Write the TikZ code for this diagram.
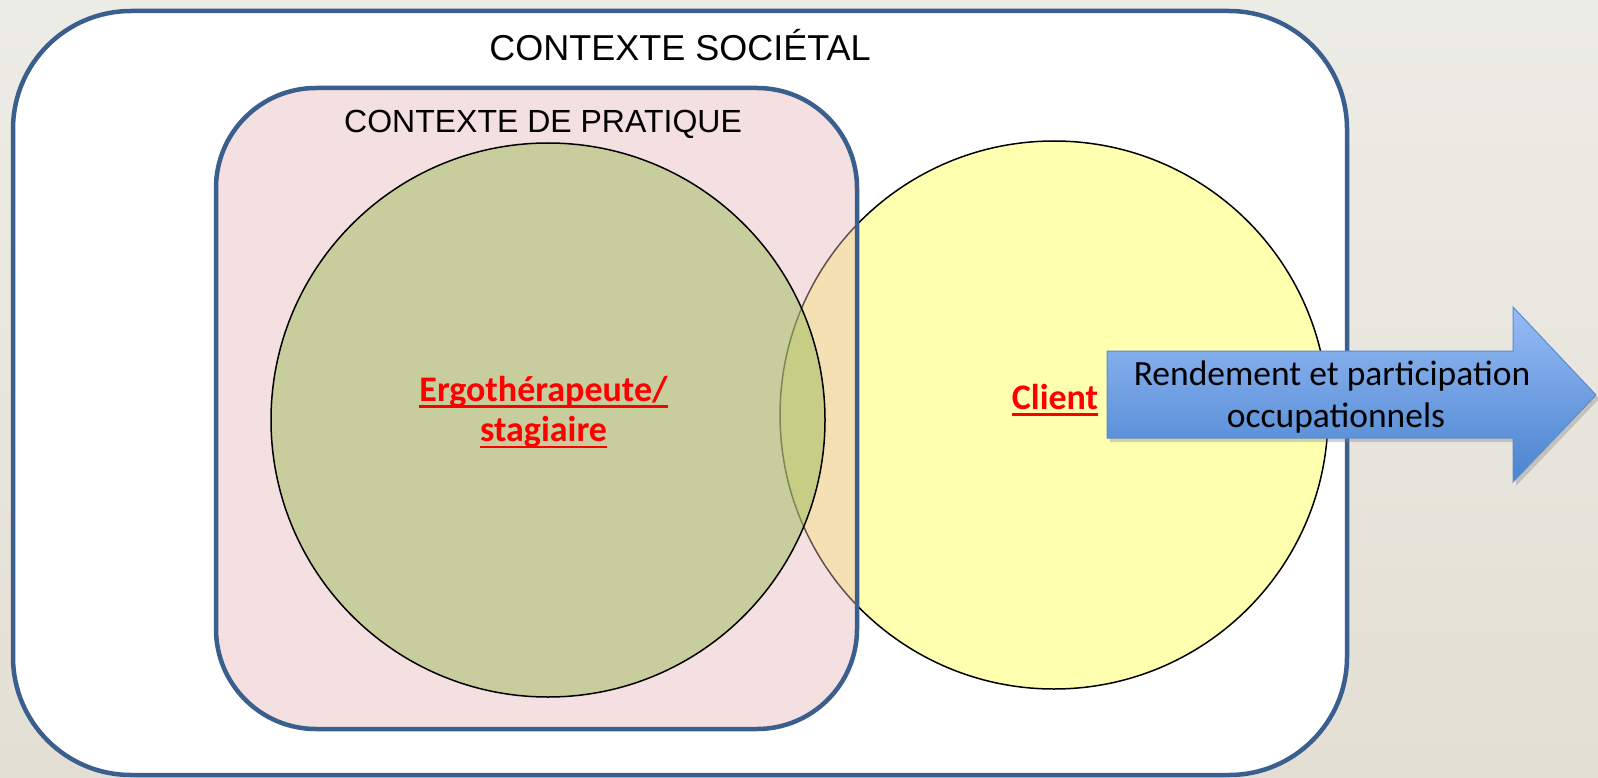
\documentclass[tikz,border=0pt]{standalone}
\usepackage{fontspec}
\setmainfont{Liberation Sans}
\newfontfamily\calfont{Carlito}
\usetikzlibrary{shadows}
\definecolor{bgtop}{HTML}{ECECE6}
\definecolor{bgbot}{HTML}{E4DFD4}
\definecolor{frameblue}{HTML}{3A5F8F}
\definecolor{pinkfill}{HTML}{E6B9B8}
\definecolor{olivefill}{HTML}{9BBB59}
\definecolor{yellowfill}{HTML}{FFFFB0}
\definecolor{arrowtop}{HTML}{96BBF4}
\definecolor{arrowbot}{HTML}{4A84D0}
\definecolor{arrowline}{HTML}{5A8CD0}
\definecolor{redtext}{HTML}{FF0000}
\newcommand\redul[1]{\setbox0\hbox{#1}\rlap{\color{redtext}\rule[-6.8pt]{\wd0}{2.8pt}}\box0}
\tikzset{
  frame/.style={draw=frameblue, line width=4.5pt},
  venn/.style={draw=black, line width=1.5pt},
  ctxlabel/.style={inner sep=0pt, anchor=base, font=\fontsize{#1}{#1}\selectfont},
  redlabel/.style={inner sep=0pt, anchor=base, text=redtext, font=\calfont\bfseries\fontsize{36}{36}\selectfont},
  perflabel/.style={inner sep=0pt, anchor=base, font=\calfont\fontsize{35.5}{35.5}\selectfont},
}
\begin{document}
\begin{tikzpicture}[x=1pt,y=-1pt]
\useasboundingbox (0,0) rectangle (1598,778);
% background
\shade[top color=bgtop, bottom color=bgbot] (0,0) rectangle (1598,778);
% outer context
\path[frame, fill=white, rounded corners=118pt] (13,11) rectangle (1347,775);
% client circle
\path[venn, fill=yellowfill] (1054,415) circle[radius=274];
% practice context fill
\path[fill=pinkfill, fill opacity=0.43, rounded corners=100pt] (216,88) rectangle (857,729);
% therapist circle
\path[venn, fill=olivefill, fill opacity=0.5] (548,420) circle[radius=277];
% practice context frame
\path[frame, rounded corners=100pt] (216,88) rectangle (857,729);
% labels
\node[ctxlabel=36] (societal) at (680,60.5) {CONTEXTE SOCIÉTAL};
\node[ctxlabel=32] (pratique) at (543,133) {CONTEXTE DE PRATIQUE};
\node[redlabel] (ergo1) at (543.5,401) {\redul{Ergothérapeute/}};
\node[redlabel] (ergo2) at (543.5,441.5) {\redul{stagiaire}};
\node[redlabel] (client) at (1055,409) {\redul{Client}};
% arrow
\shade[top color=arrowtop, bottom color=arrowbot, draw=arrowline, line width=1pt,
  drop shadow={shadow xshift=3pt, shadow yshift=-4pt, opacity=0.35}]
  (1107,351) -- (1513,351) -- (1513,307) -- (1596,395) -- (1513,482) -- (1513,438) -- (1107,438) -- cycle;
\node[perflabel] (perf1) at (1332,385.5) {Rendement et participation};
\node[perflabel] (perf2) at (1336,427) {occupationnels};
\end{tikzpicture}
\end{document}
